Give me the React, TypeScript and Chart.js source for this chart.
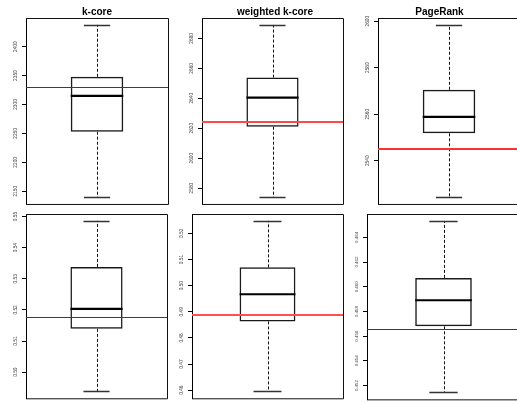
import React, { useEffect, useRef } from 'react';
import { Chart, registerables } from 'chart.js';

Chart.register(...registerables);

// ---- data ----
const panelTitles = ['k-core', 'weighted k-core', 'PageRank', '', '', ''];
const whiskerLow = [2140, 2574, 2524.4, 0.4938, 0.4595, 0.45144];
const quartile1 = [2253, 2621, 2551.8, 0.5139, 0.4863, 0.4568];
const medians = [2315, 2640.4, 2558.9, 0.5203, 0.4967, 0.45891];
const quartile3 = [2348, 2653.8, 2570.5, 0.5338, 0.507, 0.46072];
const whiskerHigh = [2437.7, 2689, 2598.4, 0.5486, 0.5248, 0.46534];
const referenceValues = [2330, 2624.4, 2544.9, 0.5176, 0.4886, 0.45662];

const ticksKcore = [2150, 2200, 2250, 2300, 2350, 2400];
const ticksWeighted = [2580, 2600, 2620, 2640, 2660, 2680];
const ticksPageRank = [2540, 2560, 2580, 2600];
const ticksKcore2 = [0.5, 0.51, 0.52, 0.53, 0.54, 0.55];
const ticksWeighted2 = [0.46, 0.47, 0.48, 0.49, 0.5, 0.51, 0.52];
const ticksPageRank2 = [0.452, 0.454, 0.456, 0.458, 0.46, 0.462, 0.464];
const tickSets = [ticksKcore, ticksWeighted, ticksPageRank, ticksKcore2, ticksWeighted2, ticksPageRank2];
const tickDecimals = [0, 0, 0, 2, 2, 3];

// ---- layout / style (not data) ----
const FONT = '"Liberation Sans", Arial, Helvetica, sans-serif';
const AXIS_W = 26;
const LAYOUT = [
  { l: 26, t: 18, r: 168, b: 206, row: 0, titleX: 97, refW: 1, refC: '#d00000', fs: 4.8 },
  { l: 202, t: 18, r: 343, b: 206, row: 0, titleX: 275, refW: 2, refC: '#ff4848', fs: 4.8 },
  { l: 378, t: 18, r: 520, b: 206, row: 0, titleX: 439.5, refW: 2, refC: '#ff3030', fs: 4.8 },
  { l: 26, t: 214, r: 167, b: 401, row: 1, titleX: 97, refW: 1, refC: '#d00000', fs: 4.8 },
  { l: 192, t: 214, r: 343, b: 401, row: 1, titleX: 268, refW: 2, refC: '#ff5050', fs: 4.8 },
  { l: 367, t: 214, r: 520, b: 401, row: 1, titleX: 443, refW: 1, refC: '#c80000', fs: 4.4 },
];

function measureWidest(labels: string[], size: number): number {
  const c = document.createElement('canvas');
  const ctx = c.getContext('2d')!;
  ctx.font = `normal ${size}px ${FONT}`;
  return Math.max(...labels.map((s) => ctx.measureText(s).width));
}

function Panel({ i }: { i: number }) {
  const ref = useRef<HTMLCanvasElement>(null);
  const L = LAYOUT[i];
  const canvasLeft = L.l - AXIS_W;
  const canvasTop = L.row === 0 ? 0 : 208;
  const width = L.r - canvasLeft + 2;
  const height = L.b - canvasTop + 2;

  useEffect(() => {
    const lo = whiskerLow[i];
    const hi = whiskerHigh[i];
    const ext = (hi - lo) * 0.04;
    const yMin = lo - ext;
    const yMax = hi + ext;
    const dec = tickDecimals[i];
    const labels = tickSets[i].map((v) => v.toFixed(dec));
    const widest = measureWidest(labels, L.fs);
    const tickLen = 4;
    const labelPad = 10.5 - tickLen - widest / 2;

    const boxPlugin = {
      id: 'boxExtras',
      beforeDatasetsDraw(chart: any) {
        const ctx = chart.ctx;
        const y = chart.scales.y;
        const bar = chart.getDatasetMeta(0).data[0] as any;
        const cx = bar.x;
        const half = bar.width / 2;
        ctx.save();
        ctx.strokeStyle = '#111';
        ctx.lineWidth = 1;
        ctx.setLineDash([3, 2]);
        const x = Math.round(cx) + 0.5;
        ctx.beginPath();
        ctx.moveTo(x, y.getPixelForValue(quartile3[i]));
        ctx.lineTo(x, y.getPixelForValue(whiskerHigh[i]));
        ctx.moveTo(x, y.getPixelForValue(quartile1[i]));
        ctx.lineTo(x, y.getPixelForValue(whiskerLow[i]));
        ctx.stroke();
        ctx.setLineDash([]);
        ctx.strokeStyle = '#333';
        ctx.lineWidth = 1.3;
        ctx.beginPath();
        const yh = Math.round(y.getPixelForValue(whiskerHigh[i])) + 0.5;
        const yl = Math.round(y.getPixelForValue(whiskerLow[i])) + 0.5;
        ctx.moveTo(cx - half / 2, yh);
        ctx.lineTo(cx + half / 2, yh);
        ctx.moveTo(cx - half / 2, yl);
        ctx.lineTo(cx + half / 2, yl);
        ctx.stroke();
        ctx.restore();
      },
      afterDatasetsDraw(chart: any) {
        const ctx = chart.ctx;
        const y = chart.scales.y;
        const a = chart.chartArea;
        const bar = chart.getDatasetMeta(0).data[0] as any;
        const cx = bar.x;
        const half = bar.width / 2;
        ctx.save();
        // median
        ctx.strokeStyle = '#000';
        ctx.lineWidth = 2.2;
        ctx.beginPath();
        const ym = y.getPixelForValue(medians[i]);
        ctx.moveTo(cx - half, ym);
        ctx.lineTo(cx + half, ym);
        ctx.stroke();
        // frame
        ctx.lineWidth = 1;
        ctx.strokeStyle = '#111';
        ctx.beginPath();
        ctx.moveTo(a.left, a.top + 0.5);
        ctx.lineTo(a.right + 0.5, a.top + 0.5);
        ctx.lineTo(a.right + 0.5, a.bottom + 0.5);
        ctx.lineTo(a.left, a.bottom + 0.5);
        ctx.stroke();
        // reference line
        ctx.strokeStyle = L.refC;
        ctx.lineWidth = L.refW;
        const yr = y.getPixelForValue(referenceValues[i]);
        const yy = L.refW === 1 ? Math.round(yr) + 0.5 : Math.round(yr);
        ctx.beginPath();
        ctx.moveTo(a.left, yy);
        ctx.lineTo(a.right, yy);
        ctx.stroke();
        ctx.restore();
      },
      afterDraw(chart: any) {
        const title = panelTitles[i];
        if (!title) return;
        const ctx = chart.ctx;
        ctx.save();
        ctx.font = `bold 10px ${FONT}`;
        ctx.fillStyle = '#000';
        ctx.textAlign = 'center';
        ctx.textBaseline = 'alphabetic';
        ctx.fillText(title, L.titleX - canvasLeft, 15 - canvasTop);
        ctx.restore();
      },
    };

    const chart = new Chart(ref.current!, {
      type: 'bar',
      data: {
        labels: [''],
        datasets: [
          {
            data: [[quartile1[i], quartile3[i]]] as any,
            backgroundColor: 'rgba(255,255,255,0)',
            borderColor: '#1a1a1a',
            borderWidth: 1.5,
            borderSkipped: false,
            barPercentage: 0.37,
            categoryPercentage: 1,
          },
        ],
      },
      options: {
        animation: false,
        responsive: false,
        devicePixelRatio: 1,
        layout: { padding: { left: 0, right: 2, top: L.t - canvasTop, bottom: 2 } },
        plugins: {
          legend: { display: false },
          tooltip: { enabled: false },
          title: { display: false },
        },
        scales: {
          x: { display: false },
          y: {
            min: yMin,
            max: yMax,
            afterFit: (s: any) => {
              s.width = AXIS_W;
            },
            afterBuildTicks: (s: any) => {
              s.ticks = tickSets[i].map((v) => ({ value: v }));
            },
            ticks: {
              autoSkip: false,
              minRotation: 90,
              maxRotation: 90,
              crossAlign: 'center',
              padding: labelPad,
              color: '#444',
              font: { family: FONT, size: L.fs },
              callback: (v: any) => Number(v).toFixed(dec),
            },
            grid: {
              drawOnChartArea: false,
              drawTicks: true,
              tickLength: tickLen,
              color: '#000',
              lineWidth: 1,
            },
            border: { display: true, color: '#000', width: 1 },
          },
        },
      } as any,
      plugins: [boxPlugin],
    });
    return () => chart.destroy();
  }, [i]);

  return (
    <canvas
      ref={ref}
      width={width}
      height={height}
      style={{ position: 'absolute', left: canvasLeft, top: canvasTop, width, height }}
    />
  );
}

export default function App() {
  return (
    <div
      style={{
        position: 'absolute',
        left: 0,
        top: 0,
        width: 517,
        height: 403,
        overflow: 'hidden',
        background: '#fff',
      }}
    >
      {LAYOUT.map((_, i) => (
        <Panel key={i} i={i} />
      ))}
    </div>
  );
}
